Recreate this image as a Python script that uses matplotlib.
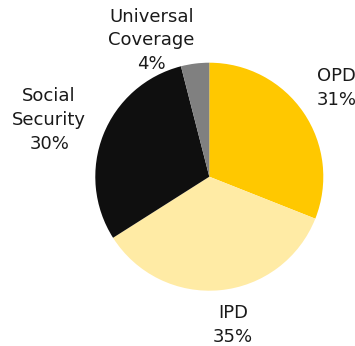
import numpy as np
import matplotlib
matplotlib.use("Agg")
import matplotlib.pyplot as plt

categories = ["OPD", "IPD", "Social\nSecurity", "Universal\nCoverage"]
values = [31, 35, 30, 4]
colors = ["#FFC800", "#FFEBA5", "#0F0F0F", "#808080"]
# label placement (radial distance in radii, angle nudge in degrees)
label_dist = [1.36, 1.32, 1.49, 1.30]
label_nudge = [0.8, 3.7, 2.1, 15.8]

W, H = 355, 346
fig = plt.figure(figsize=(W / 100, H / 100), dpi=100)
ax = fig.add_axes([0, 0, 1, 1])
wedges, _ = ax.pie(values, colors=colors, startangle=90, counterclock=False,
                   radius=1.0, wedgeprops=dict(linewidth=0))
cx, cy, r = 209.3, 176.7, 114.0
ax.set_aspect("auto")
ax.set_xlim(-cx / r, (W - cx) / r)
ax.set_ylim(-(H - cy) / r, cy / r)
ax.axis("off")

for w, cat, v, d, n in zip(wedges, categories, values, label_dist, label_nudge):
    mid = np.deg2rad((w.theta1 + w.theta2) / 2 + n)
    ax.text(d * np.cos(mid), d * np.sin(mid), f"{cat}\n{v}%", ha="center", va="center",
            fontsize=13, color="#1a1a1a", linespacing=1.4, family="DejaVu Sans")

fig.savefig("out.png", dpi=100)
